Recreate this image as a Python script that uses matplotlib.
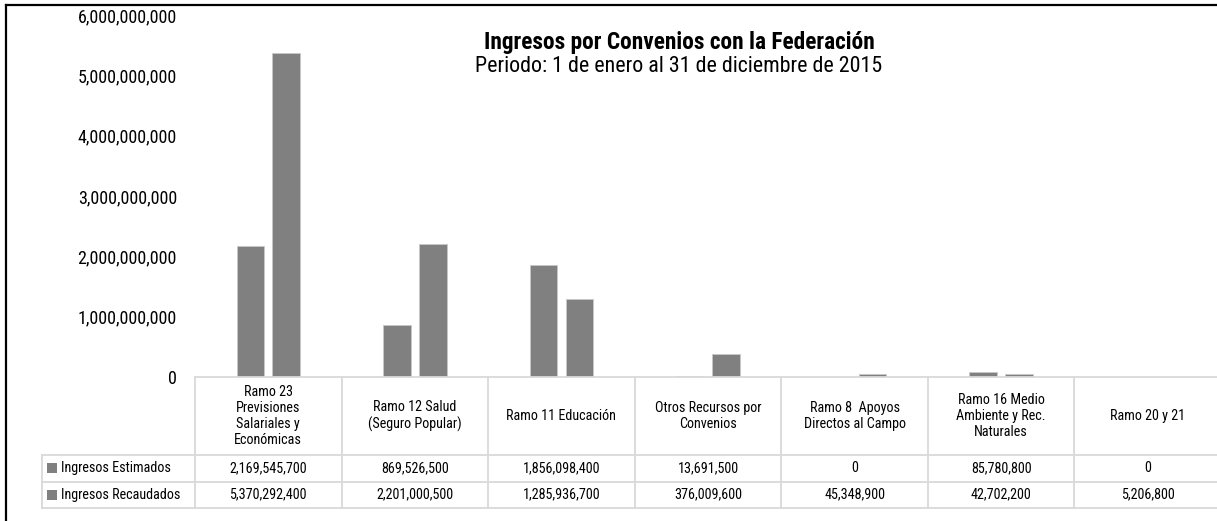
import numpy as np
import matplotlib
matplotlib.use("Agg")
import matplotlib.pyplot as plt
import matplotlib.transforms as mtransforms
from matplotlib.lines import Line2D
from matplotlib.patches import Rectangle

plt.rcParams['font.family'] = ['Roboto Condensed', 'Liberation Sans', 'DejaVu Sans']

categorias = [
    "Ramo 23\nPrevisiones\nSalariales y\nEconómicas",
    "Ramo 12 Salud\n(Seguro Popular)",
    "Ramo 11 Educación",
    "Otros Recursos por\nConvenios",
    "Ramo 8  Apoyos\nDirectos al Campo",
    "Ramo 16 Medio\nAmbiente y Rec.\nNaturales",
    "Ramo 20 y 21",
]
series = ["Ingresos Estimados", "Ingresos Recaudados"]
estimados = [2169545700, 869526500, 1856098400, 13691500, 0, 85780800, 0]
recaudados = [5370292400, 2201000500, 1285936700, 376009600, 45348900, 42702200, 5206800]
yticks = [0, 1e9, 2e9, 3e9, 4e9, 5e9, 6e9]

W, H = 1217, 521
fig = plt.figure(figsize=(W / 100, H / 100), dpi=100)

# axes in pixel terms: x 195..1221, y 15..377
ax_l, ax_r, ax_t, ax_b = 195, 1221, 15, 377
ax = fig.add_axes([ax_l / W, 1 - ax_b / H, (ax_r - ax_l) / W, (ax_b - ax_t) / H])
ax_h = ax_b - ax_t

n = len(categorias)
x = np.arange(n) + 0.5
bw = 0.188
off = 0.122
gris = '#808080'
ax.bar(x - off, estimados, bw, color=gris, edgecolor='#c8c8c8', linewidth=0.6)
ax.bar(x + off, recaudados, bw, color=gris, edgecolor='#c8c8c8', linewidth=0.6)

ax.set_xlim(0, n)
ax.set_ylim(0, 6e9)
ax.set_yticks(yticks)
ax.set_yticklabels([f"{int(v):,}" for v in yticks], fontsize=13)
ax.tick_params(axis='y', length=0, pad=13)
ax.set_xticks([])
for s in ax.spines.values():
    s.set_visible(False)

# data table below the axis
tr = mtransforms.blended_transform_factory(ax.transData, ax.transAxes)

def ya(ypix):
    return (ax_b - ypix) / ax_h

line_c = '#d9d9d9'
lw = 1.3
y_head_top, y_head_bot, y_r1, y_r2 = 377, 455, 481.5, 508
x_lab = (42 - ax_l) / ((ax_r - ax_l) / n)

def hline(y, x0):
    ax.add_line(Line2D([x0, n], [ya(y), ya(y)], color=line_c, lw=lw, transform=tr, clip_on=False))

hline(y_head_top, 0)
for y in (y_head_bot, y_r1, y_r2):
    hline(y, x_lab)
for i in range(n + 1):
    ax.add_line(Line2D([i, i], [ya(y_head_top), ya(y_r2)], color=line_c, lw=lw, transform=tr, clip_on=False))
ax.add_line(Line2D([x_lab, x_lab], [ya(y_head_bot), ya(y_r2)], color=line_c, lw=lw, transform=tr, clip_on=False))

tfs = 10.2
for i, c in enumerate(categorias):
    ax.text(x[i], ya((y_head_top + y_head_bot) / 2), c, transform=tr, ha='center', va='center',
            fontsize=tfs, linespacing=1.18, clip_on=False)

filas = [estimados, recaudados]
centros = [(y_head_bot + y_r1) / 2, (y_r1 + y_r2) / 2]
px_unit = n / (ax_r - ax_l)
for nombre, vals, yc in zip(series, filas, centros):
    ax.add_patch(Rectangle((x_lab + 5 * px_unit, ya(yc + 5)), 10 * px_unit, 10 / ax_h,
                           transform=tr, facecolor=gris, edgecolor='none', clip_on=False))
    ax.text(x_lab + 18.5 * px_unit, ya(yc), nombre, transform=tr, ha='left', va='center',
            fontsize=tfs, clip_on=False)
    for i, v in enumerate(vals):
        ax.text(x[i], ya(yc), f"{v:,}", transform=tr, ha='center', va='center',
                fontsize=tfs, clip_on=False)

# titles
fig.text(679 / W, 1 - 42 / H, "Ingresos por Convenios con la Federación", ha='center', va='center',
         fontsize=16.8, fontweight='bold')
fig.text(679 / W, 1 - 66 / H, "Periodo: 1 de enero al 31 de diciembre de 2015", ha='center', va='center',
         fontsize=15.8)

# outer frame (top and left visible)
fig.add_artist(Line2D([6 / W, 1], [1 - 5 / H, 1 - 5 / H], color='black', lw=1.6, transform=fig.transFigure))
fig.add_artist(Line2D([6 / W, 6 / W], [0, 1 - 5 / H], color='black', lw=1.6, transform=fig.transFigure))

fig.savefig("out.png", dpi=100)
